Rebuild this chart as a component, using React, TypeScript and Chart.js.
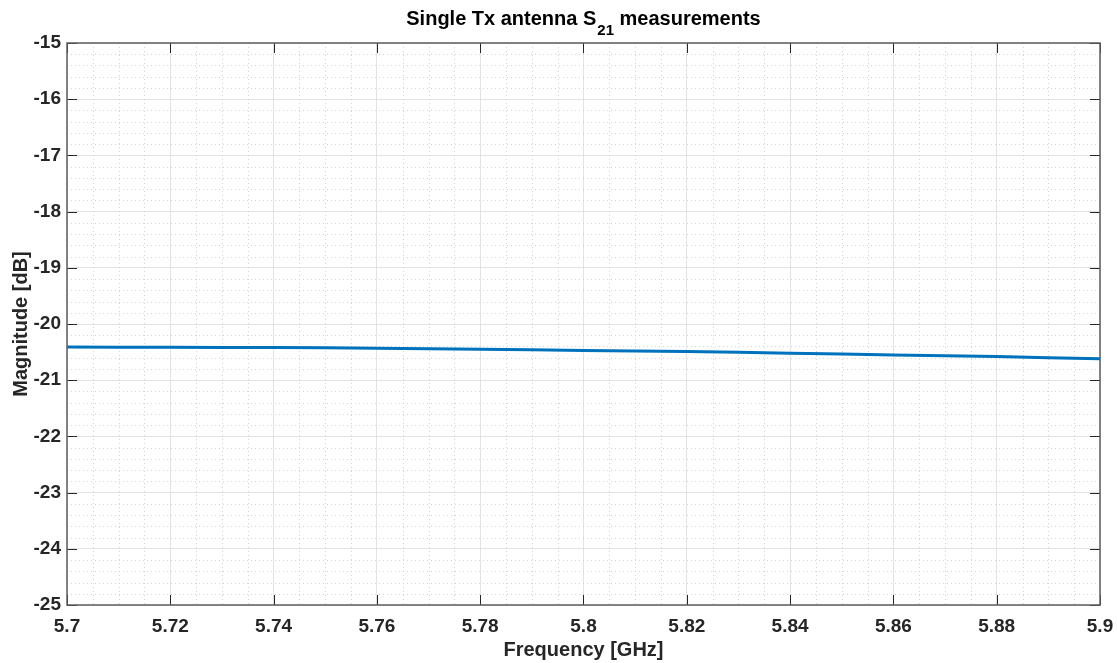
import React, { useEffect, useRef } from "react";
import { Chart, registerables } from "chart.js";

Chart.register(...registerables);

const freqGHz: number[] = [5.70, 5.72, 5.74, 5.76, 5.78, 5.80, 5.82, 5.84, 5.86, 5.88, 5.90];
const magDB: number[] = [-20.41, -20.415, -20.42, -20.43, -20.45, -20.47, -20.49, -20.52, -20.55, -20.58, -20.62];

const xMin = 5.7;
const xMax = 5.9;
const xMajorStep = 0.02;
const xMinorStep = 0.005;
const yMin = -25;
const yMax = -15;
const yMajorStep = 1;
const yMinorStep = 0.2;

const titleMain = "Single Tx antenna S";
const titleSub = "21";
const titleTail = " measurements";
const xTitle = "Frequency [GHz]";
const yTitle = "Magnitude [dB]";

const FONT = "'Liberation Sans', Arial, Helvetica, sans-serif";

const matlabPlugin = {
  id: "matlabDecor",
  beforeDatasetsDraw(chart: any) {
    const { ctx, chartArea } = chart;
    const xs = chart.scales.x;
    const ys = chart.scales.y;
    ctx.save();
    ctx.strokeStyle = "rgba(205,205,205,0.85)";
    ctx.lineWidth = 1;
    ctx.setLineDash([1, 3]);
    const nx = Math.round((xMax - xMin) / xMinorStep);
    for (let i = 1; i < nx; i++) {
      if (i % Math.round(xMajorStep / xMinorStep) === 0) continue;
      const px = Math.round(xs.getPixelForValue(xMin + i * xMinorStep)) + 0.5;
      ctx.beginPath();
      ctx.moveTo(px, chartArea.top);
      ctx.lineTo(px, chartArea.bottom);
      ctx.stroke();
    }
    const ny = Math.round((yMax - yMin) / yMinorStep);
    for (let i = 1; i < ny; i++) {
      if (i % Math.round(yMajorStep / yMinorStep) === 0) continue;
      const py = Math.round(ys.getPixelForValue(yMin + i * yMinorStep)) + 0.5;
      ctx.beginPath();
      ctx.moveTo(chartArea.left, py);
      ctx.lineTo(chartArea.right, py);
      ctx.stroke();
    }
    ctx.restore();
  },
  afterDatasetsDraw(chart: any) {
    const { ctx, chartArea } = chart;
    const xs = chart.scales.x;
    const ys = chart.scales.y;
    ctx.save();
    ctx.setLineDash([]);
    ctx.strokeStyle = "#262626";
    ctx.lineWidth = 1;
    const tl = 10;
    const nx = Math.round((xMax - xMin) / xMajorStep);
    for (let i = 0; i <= nx; i++) {
      const px = Math.round(xs.getPixelForValue(xMin + i * xMajorStep)) + 0.5;
      ctx.beginPath();
      ctx.moveTo(px, chartArea.bottom);
      ctx.lineTo(px, chartArea.bottom - tl);
      ctx.moveTo(px, chartArea.top);
      ctx.lineTo(px, chartArea.top + tl);
      ctx.stroke();
    }
    const ny = Math.round((yMax - yMin) / yMajorStep);
    for (let i = 0; i <= ny; i++) {
      const py = Math.round(ys.getPixelForValue(yMin + i * yMajorStep)) + 0.5;
      ctx.beginPath();
      ctx.moveTo(chartArea.left, py);
      ctx.lineTo(chartArea.left + tl, py);
      ctx.moveTo(chartArea.right, py);
      ctx.lineTo(chartArea.right - tl, py);
      ctx.stroke();
    }
    ctx.strokeStyle = "#5e5e5e";
    ctx.lineWidth = 1.5;
    ctx.strokeRect(chartArea.left, chartArea.top, chartArea.right - chartArea.left, chartArea.bottom - chartArea.top);

    // title with subscript
    ctx.fillStyle = "#000000";
    ctx.textBaseline = "alphabetic";
    const big = "bold 20px " + FONT;
    const small = "bold 15px " + FONT;
    ctx.font = big;
    const w1 = ctx.measureText(titleMain).width;
    const w3 = ctx.measureText(titleTail).width;
    ctx.font = small;
    const w2 = ctx.measureText(titleSub).width;
    const gap = 1;
    const total = w1 + gap + w2 + w3;
    const cx = (chartArea.left + chartArea.right) / 2;
    let x = cx - total / 2;
    const base = 25;
    ctx.textAlign = "left";
    ctx.font = big;
    ctx.fillText(titleMain, x, base);
    x += w1 + gap;
    ctx.font = small;
    ctx.fillText(titleSub, x, base + 10);
    x += w2;
    ctx.font = big;
    ctx.fillText(titleTail, x, base);
    ctx.restore();
  },
};

export default function App() {
  const ref = useRef<HTMLCanvasElement | null>(null);
  useEffect(() => {
    document.body.style.margin = "0";
    const canvas = ref.current;
    if (!canvas) return;
    const chart = new Chart(canvas, {
      type: "line",
      data: {
        datasets: [
          {
            data: freqGHz.map((f, i) => ({ x: f, y: magDB[i] })),
            borderColor: "#0072BD",
            borderWidth: 3,
            pointRadius: 0,
            fill: false,
            tension: 0.3,
          },
        ],
      },
      options: {
        responsive: false,
        animation: false,
        devicePixelRatio: 1,
        layout: { padding: { top: 43, right: 17, left: 0, bottom: 0 } },
        plugins: { legend: { display: false }, title: { display: false }, tooltip: { enabled: false } },
        scales: {
          x: {
            type: "linear",
            min: xMin,
            max: xMax,
            afterFit(scale: any) {
              scale.height = 58;
              scale.paddingLeft = 0;
              scale.paddingRight = 0;
            },
            ticks: {
              stepSize: xMajorStep,
              padding: 10,
              color: "#262626",
              font: { family: FONT, size: 19, weight: "bold" },
              maxRotation: 0,
              autoSkip: false,
              callback: (v: any) => String(Number(Number(v).toFixed(3))),
            },
            grid: { color: "#e3e3e3", lineWidth: 1, drawTicks: false },
            border: { display: false },
            title: {
              display: true,
              text: xTitle,
              color: "#262626",
              font: { family: FONT, size: 20, weight: "bold" },
              padding: { top: 0, bottom: 1 },
            },
          },
          y: {
            type: "linear",
            min: yMin,
            max: yMax,
            afterFit(scale: any) {
              scale.width = 67;
              scale.paddingTop = 0;
              scale.paddingBottom = 0;
            },
            ticks: {
              stepSize: yMajorStep,
              padding: 6,
              color: "#262626",
              font: { family: FONT, size: 19, weight: "bold" },
              autoSkip: false,
              callback: (v: any) => String(Math.round(Number(v))),
            },
            grid: { color: "#e3e3e3", lineWidth: 1, drawTicks: false },
            border: { display: false },
            title: {
              display: true,
              text: yTitle,
              color: "#262626",
              font: { family: FONT, size: 20, weight: "bold" },
              padding: { top: 9, bottom: 0 },
            },
          },
        },
      },
      plugins: [matlabPlugin],
    } as any);
    return () => chart.destroy();
  }, []);
  return (
    <div style={{ width: 1117, height: 663 }}>
      <canvas ref={ref} width={1117} height={663} style={{ width: 1117, height: 663, display: "block" }} />
    </div>
  );
}
